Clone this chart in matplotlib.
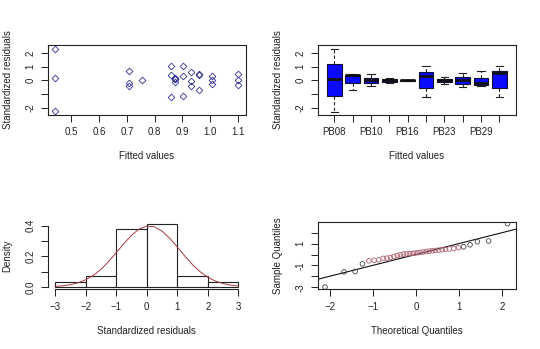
import numpy as np
import matplotlib
matplotlib.use('Agg')
import matplotlib.pyplot as plt

plt.rcParams['font.family'] = ['Liberation Sans', 'DejaVu Sans']
plt.rcParams['font.size'] = 7

# residuals vs fitted
fitted = [0.441, 0.441, 0.441, 0.708, 0.708, 0.708, 0.756,
          0.859, 0.859, 0.859, 0.872, 0.872, 0.872, 0.872,
          0.903, 0.903, 0.903, 0.932, 0.932, 0.932,
          0.959, 0.959, 0.959, 1.007, 1.007, 1.007,
          1.102, 1.102, 1.102]
std_resid = [2.33, 0.17, -2.28, 0.71, -0.17, -0.42, 0.05,
             1.05, 0.42, -1.25, 0.2, 0.12, 0.08, -0.15,
             1.05, 0.32, -1.18, 0.64, -0.02, -0.44,
             0.47, 0.37, -0.69, 0.34, 0.0, -0.27,
             0.47, 0.0, -0.37]

# residuals by group (box stats)
groups = ["PB08", "", "PB10", "", "PB16", "", "PB23", "", "PB29", ""]
wlo = [-2.34, -0.72, -0.40, -0.17, -0.03, -1.26, -0.27, -0.52, -0.40, -1.26]
q1 = [-1.16, -0.17, -0.17, -0.12, -0.02, -0.55, -0.15, -0.30, -0.32, -0.55]
med = [0.12, 0.37, 0.02, 0.02, 0.0, 0.32, 0.0, 0.0, -0.22, 0.52]
q3 = [1.21, 0.42, 0.20, 0.12, 0.02, 0.61, 0.12, 0.24, 0.17, 0.69]
whi = [2.31, 0.45, 0.44, 0.17, 0.03, 1.06, 0.27, 0.56, 0.69, 1.06]

# histogram of standardized residuals
bin_edges = [-3, -2, -1, 0, 1, 2, 3]
density = [0.033, 0.07, 0.378, 0.41, 0.07, 0.033]
curve_x = [-3.0, -2.75, -2.5, -2.25, -2.0, -1.75, -1.5, -1.25, -1.0, -0.75, -0.5, -0.25,
           0.0, 0.25, 0.5, 0.75, 1.0, 1.25, 1.5, 1.75, 2.0, 2.25, 2.5, 2.75, 3.0]
curve_y = [0.0035, 0.0073, 0.0143, 0.0264, 0.0459, 0.0748, 0.1145, 0.1647, 0.2227,
           0.2827, 0.3372, 0.3778, 0.3977, 0.3932, 0.3652, 0.3187, 0.2613, 0.2012,
           0.1456, 0.0989, 0.0632, 0.0379, 0.0213, 0.0113, 0.0056]

# normal QQ
theo_q = [-2.12, -1.68, -1.42, -1.25, -1.1, -0.98, -0.87, -0.77, -0.68, -0.6, -0.52, -0.44,
          -0.37, -0.3, -0.23, -0.16, -0.09, -0.03, 0.03, 0.09, 0.16, 0.23, 0.3, 0.37,
          0.44, 0.52, 0.6, 0.68, 0.77, 0.87, 0.98, 1.1, 1.25, 1.42, 1.68, 2.12]
sample_q = [-2.98, -1.59, -1.55, -0.85, -0.57, -0.53, -0.48, -0.35, -0.32, -0.26, -0.17, -0.08,
            -0.02, 0.05, 0.07, 0.08, 0.11, 0.14, 0.17, 0.2, 0.24, 0.28, 0.32, 0.35,
            0.38, 0.41, 0.44, 0.48, 0.52, 0.57, 0.64, 0.72, 0.9, 1.18, 1.25, 2.84]
qq_intercept = 0.02
qq_slope = 1.0

ink = '#222222'

fig = plt.figure(figsize=(5.4, 3.49), dpi=100)
fig.patch.set_facecolor('white')

ax1 = fig.add_axes([0.0883, 0.6705, 0.3667, 0.2006])
ax2 = fig.add_axes([0.5883, 0.6705, 0.3667, 0.2006])
ax3 = fig.add_axes([0.0883, 0.171, 0.3667, 0.194])
ax4 = fig.add_axes([0.5883, 0.171, 0.3667, 0.194])

for ax in [ax1, ax2, ax3, ax4]:
    ax.tick_params(length=5, width=0.7, pad=4, colors=ink, labelsize=7)
    for s in ax.spines.values():
        s.set_linewidth(0.8)
        s.set_color(ink)

def r_yticks(ax, ticks, labels):
    ax.set_yticks(ticks)
    ax.set_yticklabels(labels, rotation=90, va='center')

# top left
ax1.plot(fitted, std_resid, linestyle='none', marker='D', markersize=3.4,
         markerfacecolor='none', markeredgecolor='#30309a', markeredgewidth=0.6)
ax1.set_xlim(0.4146, 1.1284)
ax1.set_ylim(-2.55, 2.6)
ax1.set_xticks([0.5, 0.6, 0.7, 0.8, 0.9, 1.0, 1.1])
r_yticks(ax1, [-2, -1, 0, 1, 2], ['-2', '', '0', '1', '2'])
ax1.set_xlabel("Fitted values", labelpad=10, color=ink)
ax1.set_ylabel("Standardized residuals", labelpad=9, color=ink)

# top right
stats = []
for i in range(len(groups)):
    stats.append(dict(whislo=wlo[i], q1=q1[i], med=med[i], q3=q3[i], whishi=whi[i], fliers=[]))
ax2.bxp(stats, positions=np.arange(1, len(groups) + 1), widths=0.8, patch_artist=True,
        boxprops=dict(facecolor='#0a0aff', edgecolor='#111133', linewidth=0.8),
        medianprops=dict(color='#111111', linewidth=2.0),
        whiskerprops=dict(color=ink, linewidth=0.8, linestyle=(0, (3, 2))),
        capprops=dict(color=ink, linewidth=0.8), capwidths=0.4)
ax2.set_xlim(0.1, 10.9)
ax2.set_ylim(-2.55, 2.6)
ax2.set_xticks(np.arange(1, len(groups) + 1))
ax2.set_xticklabels(groups)
r_yticks(ax2, [-2, -1, 0, 1, 2], ['-2', '', '0', '1', '2'])
ax2.set_xlabel("Fitted values", labelpad=10, color=ink)
ax2.set_ylabel("Standardized residuals", labelpad=9, color=ink)

# bottom left
ax3.bar(bin_edges[:-1], density, width=1, align='edge', facecolor='white',
        edgecolor=ink, linewidth=0.8)
ax3.plot(curve_x, curve_y, color='#a83a3a', linewidth=0.7)
ax3.set_xlim(-3.24, 3.24)
ax3.set_ylim(-0.016, 0.427)
ax3.spines['top'].set_visible(False)
ax3.spines['right'].set_visible(False)
ax3.spines['bottom'].set_bounds(-3, 3)
ax3.spines['left'].set_bounds(0, 0.4)
ax3.set_xticks([-3, -2, -1, 0, 1, 2, 3])
r_yticks(ax3, [0, 0.1, 0.2, 0.3, 0.4], ['0.0', '', '0.2', '', '0.4'])
ax3.set_xlabel("Standardized residuals", labelpad=10, color=ink)
ax3.set_ylabel("Density", labelpad=9, color=ink)

# bottom right
n = len(theo_q)
qq_cols = ['#b06070' if 4 <= i <= 30 else '#444444' for i in range(n)]
ax4.scatter(theo_q, sample_q, s=11, facecolors='none', edgecolors=qq_cols,
            linewidths=0.6, zorder=3)
ax4.axline((0, qq_intercept), slope=qq_slope, color='#111111', linewidth=0.8)
ax4.set_xlim(-2.29, 2.31)
ax4.set_ylim(-3.19, 3.03)
ax4.set_xticks([-2, -1, 0, 1, 2])
r_yticks(ax4, [-3, -2, -1, 0, 1, 2], ['-3', '', '-1', '', '1', ''])
ax4.set_xlabel("Theoretical Quantiles", labelpad=10, color=ink)
ax4.set_ylabel("Sample Quantiles", labelpad=9, color=ink)

plt.savefig("out.png", dpi=100)
